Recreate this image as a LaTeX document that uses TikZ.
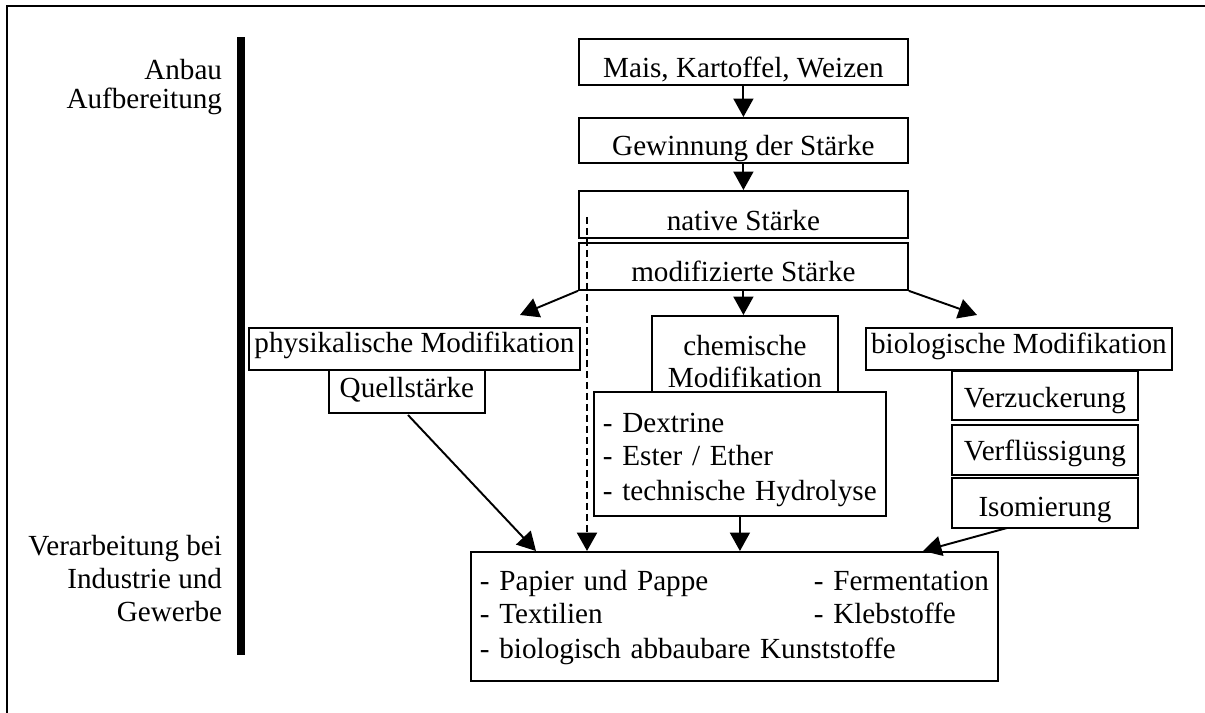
\documentclass[tikz,border=0pt]{standalone}
\usepackage{fontspec}
\setmainfont{Liberation Serif}
\usepackage{tikz}
\usetikzlibrary{
        arrows.meta,
        positioning
    }
\newcommand{\diafont}{\fontsize{16.6}{18.6}\selectfont}
\tikzset{>={Triangle[length=0.37cm,width=0.4cm]},font=\diafont}
\tikzset{box/.style={draw,inner sep=0pt,anchor=north west,align=center}}
\tikzset{listbox/.style={box,inner xsep=0.18cm,inner ysep=0pt,align=left}}
\tikzset{stage/.style={anchor=base east,align=right,inner sep=0pt}}
\tikzset{dashlink/.style={dash pattern=on 0.14cm off 0.08cm,line width=1.5pt}}

\begin{document}
\begin{tikzpicture}[x=0.02cm,y=-0.02cm,line width=1.1pt]
    \useasboundingbox (0,0) rectangle (1205,713);
    \draw (7,713) -- (7,6) -- (1205,6);
    \fill (237,37) rectangle (245,655);
    % stages
    \node[stage] (anbau) at (223,80) {Anbau};
    \node[stage] (aufb) at (223,109) {Aufbereitung};
    \node[stage] (verarbl) at (223,621) {Verarbeitung bei\\Industrie und\\Gewerbe};
    % main chain
    \node[box,minimum width=6.58cm,text height=0.78cm,text depth=0.14cm] (mais) at (578,38) {Mais, Kartoffel, Weizen};
    \node[box,minimum width=6.58cm,text height=0.76cm,text depth=0.14cm] (gewinnung) at (578,117) {Gewinnung der Stärke};
    \node[box,minimum width=6.58cm,text height=0.8cm,text depth=0.14cm] (native) at (578,190) {native Stärke};
    \node[box,minimum width=6.58cm,text height=0.78cm,text depth=0.16cm,below=0.06cm of native] (modif) {modifizierte Stärke};
    % modifications
    \node[box,minimum width=6.62cm,text height=0.5cm,text depth=0.34cm] (phys) at (248,327) {physikalische Modifikation};
    \node[box,minimum width=3.12cm,text height=0.56cm,text depth=0.3cm] (quell) at (328,369) {Quellstärke};
    \node[box,minimum width=3.72cm,text height=1.44cm,text depth=0.08cm] (chem) at (651,315) {chemische\\Modifikation};
    \node[listbox,text width=5.48cm,text height=0.82cm,text depth=1.66cm] (dextr) at (593,391) {- Dextrine\\- Ester / Ether\\[0.04cm]- technische Hydrolyse};
    \node[box,minimum width=6.12cm,text height=0.52cm,text depth=0.32cm] (bio) at (865,327) {biologische Modifikation};
    \node[box,minimum width=3.72cm,text height=0.74cm,text depth=0.24cm] (verz) at (951,370) {Verzuckerung};
    \node[box,minimum width=3.72cm,text height=0.72cm,text depth=0.28cm,below=0.06cm of verz] (verfl) {Verflüssigung};
    \node[box,minimum width=3.72cm,text height=0.78cm,text depth=0.22cm,below=0.02cm of verfl] (isom) {Isomierung};
    % use
    \node[listbox,text width=10.18cm,text height=0.78cm,text depth=1.8cm] (verarb) at (470,551) {\makebox[6.68cm][l]{- Papier und Pappe}- Fermentation\\\makebox[6.68cm][l]{- Textilien}- Klebstoffe\\[0.05cm]- biologisch abbaubare Kunststoffe};
    % connectors
    \coordinate (physin) at (520,315);
    \coordinate (bioin) at (977,315);
    \coordinate (dashtop) at (587,217);
    \coordinate (quellout) at (408,415);
    \coordinate (verarbleft) at (536,551);
    \coordinate (isomout) at (1007,528);
    \coordinate (verarbright) at (923,551);
    \draw[->] (mais) -- (gewinnung);
    \draw[->] (gewinnung) -- (native);
    \draw[->] (modif.south west) -- (physin);
    \draw[->] (modif.south) -- (modif.south |- chem.north);
    \draw[->] (modif.south east) -- (bioin);
    \draw[->,dashlink] (dashtop) -- (dashtop |- verarb.north);
    \draw[->] (quellout) -- (verarbleft);
    \draw[->] (dextr.south) -- (dextr.south |- verarb.north);
    \draw[->] (isomout) -- (verarbright);
\end{tikzpicture}
\end{document}
